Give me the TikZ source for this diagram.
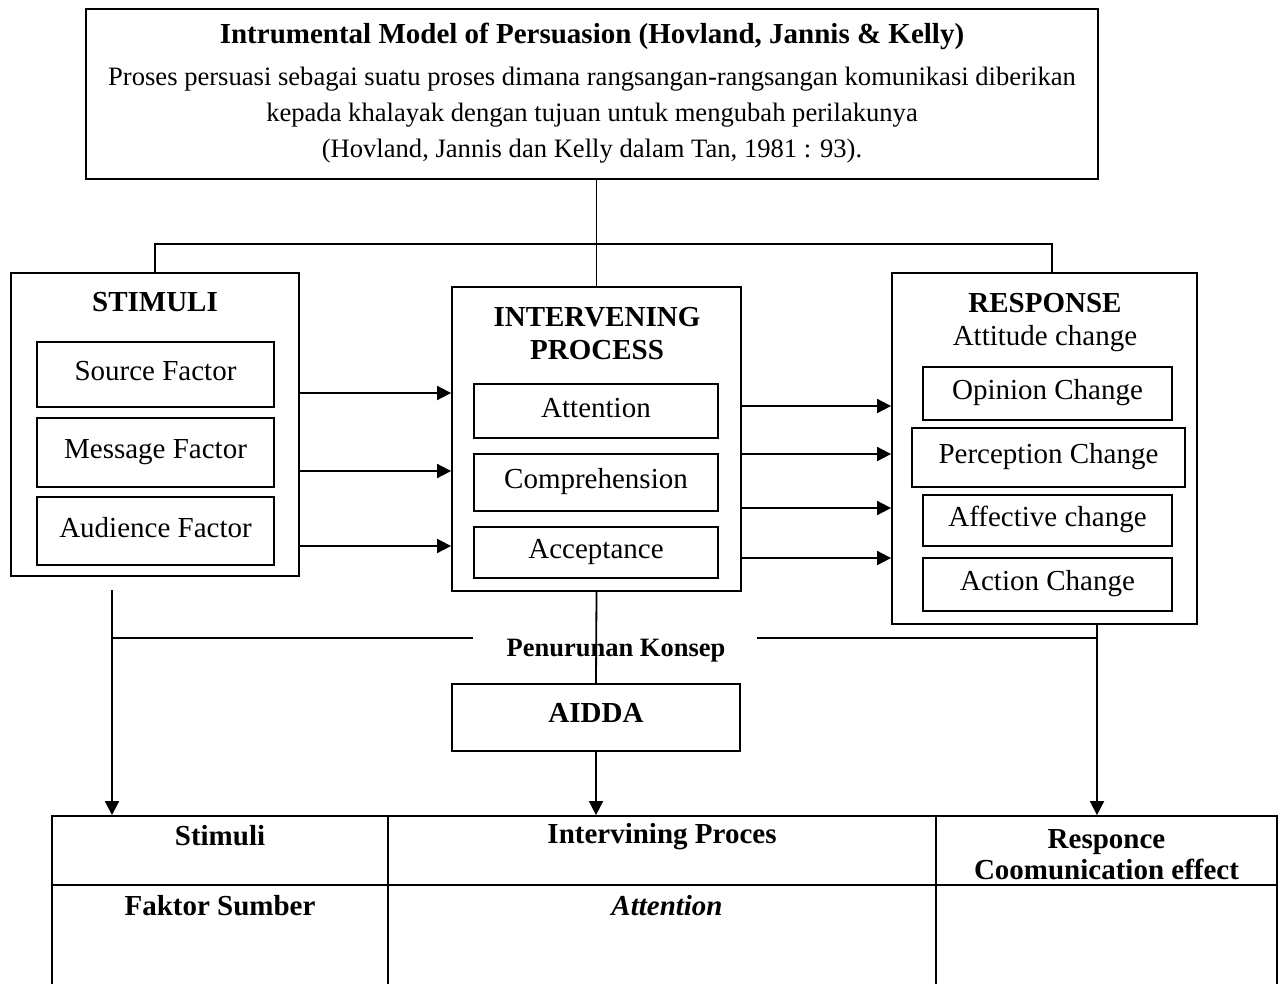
\documentclass[tikz,border=0pt]{standalone}
\usepackage{fontspec}
\setmainfont{Liberation Serif}
\usetikzlibrary{arrows.meta}

\begin{document}
\begin{tikzpicture}[x=1pt,y=-1pt,line width=1.8pt,
    box/.style={draw,inner sep=0pt},
    inbox/.style={box,font=\fontsize{29}{36}\selectfont,text height=20pt,text depth=8pt},
    head/.style={font=\fontsize{29}{33}\selectfont\bfseries,align=center,inner sep=0pt},
    txt/.style={font=\fontsize{29}{36}\selectfont,align=center,inner sep=0pt},
    arr/.style={-{Triangle[length=14pt,width=14pt]}}]
    \useasboundingbox (0,0) rectangle (1282,983);

    % model box
    \node[box,minimum width=1012pt,minimum height=170pt] (model) at (592,94) {};
    \node[head] (modeltitle) at (592,36) {Intrumental Model of Persuasion (Hovland, Jannis \& Kelly)};
    \node[txt,font=\fontsize{26.6}{36}\selectfont] (modeldesc) at (592,115) {Proses persuasi sebagai suatu proses dimana rangsangan-rangsangan komunikasi diberikan\\kepada khalayak dengan tujuan untuk mengubah perilakunya\\(Hovland, Jannis dan Kelly dalam Tan, 1981 : 93).};

    % stimuli
    \node[box,minimum width=288pt,minimum height=303pt] (stimuli) at (155,424.5) {};
    \node[head] (stimtitle) at (155,302) {STIMULI};
    \node[inbox,minimum width=237pt,minimum height=65pt] (source) at (155.5,374.5) {Source Factor};
    \node[inbox,minimum width=237pt,minimum height=69pt] (message) at (155.5,452.5) {Message Factor};
    \node[inbox,minimum width=237pt,minimum height=68pt] (audience) at (155.5,531) {Audience Factor};

    % intervening process
    \node[box,minimum width=289pt,minimum height=304pt] (interv) at (596.5,439) {};
    \node[head] (intervtitle) at (597,334) {INTERVENING\\PROCESS};
    \node[inbox,minimum width=244pt,minimum height=54pt] (attention) at (596,411) {Attention};
    \node[inbox,minimum width=244pt,minimum height=57pt] (comprehension) at (596,482.5) {Comprehension};
    \node[inbox,minimum width=244pt,minimum height=51pt] (acceptance) at (596,552.5) {Acceptance};

    % response
    \node[box,minimum width=305pt,minimum height=351pt] (response) at (1044.5,448.5) {};
    \node[txt,font=\fontsize{29}{33}\selectfont] (resptitle) at (1045,323) {\textbf{RESPONSE}\\Attitude change};
    \node[inbox,minimum width=249pt,minimum height=53pt] (opinion) at (1047.5,393.5) {Opinion Change};
    \node[inbox,minimum width=273pt,minimum height=59pt] (perception) at (1048.5,457.5) {Perception Change};
    \node[inbox,minimum width=249pt,minimum height=51pt] (affective) at (1047.5,520.5) {Affective change};
    \node[inbox,minimum width=249pt,minimum height=53pt] (action) at (1047.5,584.5) {Action Change};

    \foreach \y in {393,471,546}
        \draw[arr] (stimuli.east |- 0,\y) -- (interv.west |- 0,\y);
    \foreach \y in {406,454,508,558}
        \draw[arr] (interv.east |- 0,\y) -- (response.west |- 0,\y);

    % top connectors
    \coordinate (split) at (597,244);
    \draw (interv.north) -- (interv.north |- model.south);
    \draw (stimuli.north) |- (split) -| ([xshift=7.5pt]response.north);

    % table
    \node[box,minimum width=336pt,minimum height=69pt] (hstim) at (220,850.5) {};
    \node[box,minimum width=548pt,minimum height=69pt] (hproc) at (662,850.5) {};
    \node[box,minimum width=341pt,minimum height=69pt] (hresp) at (1106.5,850.5) {};
    \node[box,minimum width=336pt,minimum height=115pt] (bstim) at (220,942.5) {};
    \node[box,minimum width=548pt,minimum height=115pt] (bproc) at (662,942.5) {};
    \node[box,minimum width=341pt,minimum height=115pt] (bresp) at (1106.5,942.5) {};
    \node[head] at (220,836) {Stimuli};
    \node[head] at (662,837) {Intervining Proces};
    \node[head,font=\fontsize{29}{31}\selectfont\bfseries] at (1106.5,855) {Responce\\Coomunication effect};
    \node[head] at (220,906) {Faktor Sumber};
    \node[inner sep=0pt,font=\fontsize{29}{33}\selectfont\bfseries\itshape] at (667,906) {Attention};

    % penurunan konsep
    \node[inbox,font=\fontsize{29}{36}\selectfont\bfseries,minimum width=288pt,minimum height=67pt,text depth=11pt] (aidda) at (596,717.5) {AIDDA};
    \coordinate (stimdown) at (112,590);
    \coordinate (respdown) at ([xshift=52.5pt]response.south);
    \draw (interv.south) -- (aidda.north);
    \draw[arr] (aidda.south) -- (aidda.south |- hproc.north);
    \draw[arr] (stimdown) -- (stimdown |- hstim.north);
    \draw[arr] (respdown) -- (respdown |- hresp.north);
    \draw (stimdown |- 0,638) -- (473,638);
    \draw (757,638) -- (respdown |- 0,638);
    \node[inner sep=0pt,font=\fontsize{26.5}{30}\selectfont\bfseries] (konsep) at (616,651) {Penurunan Konsep};
\end{tikzpicture}
\end{document}
